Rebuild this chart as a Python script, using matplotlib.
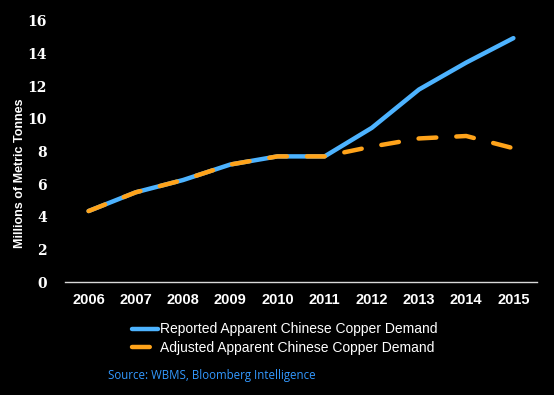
import numpy as np
import matplotlib.pyplot as plt

years = ["2006", "2007", "2008", "2009", "2010", "2011", "2012", "2013", "2014", "2015"]
reported = [4.35, 5.5, 6.25, 7.2, 7.7, 7.7, 9.45, 11.8, 13.45, 14.95]
adjusted = [4.35, 5.5, 6.25, 7.2, 7.7, 7.7, 8.3, 8.8, 8.95, 8.2]
yticks = [0, 2, 4, 6, 8, 10, 12, 14, 16]

fig = plt.figure(figsize=(5.54, 3.95), dpi=100, facecolor="black")
ax = fig.add_axes([65 / 554, 1 - 282 / 395, 472 / 554, 261 / 395])
ax.set_facecolor("black")

x = np.arange(len(years))
ax.plot(x, reported, color="#4db3ff", lw=3.2, solid_capstyle="round",
        label="Reported Apparent Chinese Copper Demand")
ax.plot(x, adjusted, color="#ffa31a", lw=3.2, dashes=(4, 4.5), dash_capstyle="round",
        label="Adjusted Apparent Chinese Copper Demand")

ax.set_xlim(-0.5, len(years) - 0.5)
ax.set_ylim(0, 16)
ax.set_xticks(x)
ax.set_xticklabels(years, fontfamily="Liberation Sans", fontweight="bold", fontsize=10.5, color="white")
ax.set_yticks(yticks)
ax.set_yticklabels([str(v) for v in yticks], fontfamily="DejaVu Serif", fontweight="bold",
                   fontsize=10, color="white")
ax.tick_params(length=0, pad=8)
ax.tick_params(axis="y", pad=13)
for s in ["top", "right", "left"]:
    ax.spines[s].set_visible(False)
ax.spines["bottom"].set_color("#d9d9d9")
ax.spines["bottom"].set_linewidth(1)

fig.text(20 / 554, 1 - 173 / 395, "Millions of Metric Tonnes", rotation=90, color="white",
         fontfamily="Liberation Sans", fontweight="bold", fontsize=9, ha="center", va="center")

leg = fig.legend(loc="upper left", bbox_to_anchor=(119 / 554, 1 - 310 / 395), frameon=False,
                 handlelength=1.9, handletextpad=0.15, labelspacing=0.3,
                 prop={"family": "Liberation Sans", "size": 10})
for t in leg.get_texts():
    t.set_color("white")

fig.text(108 / 554, 1 - 375 / 395, "Source: WBMS, Bloomberg Intelligence", color="#3399ff",
         fontfamily="Open Sans", fontsize=8.3, va="center")

fig.savefig("out.png", dpi=100, facecolor="black")
